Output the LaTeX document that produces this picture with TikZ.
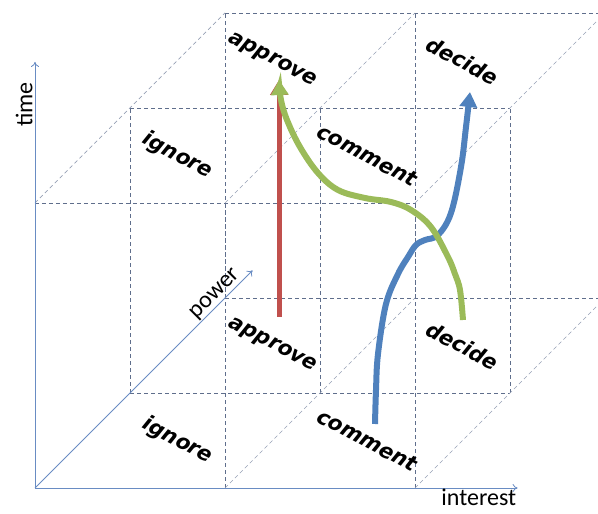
\documentclass[tikz,border=0pt]{standalone}
\usepackage{fontspec}
\setmainfont{Carlito}
\newfontfamily\cellfont{DejaVu Sans}
\usetikzlibrary{arrows.meta}

\definecolor{axisblue}{RGB}{105,140,195}
\definecolor{gridgray}{RGB}{95,110,140}
\definecolor{diaggray}{RGB}{150,160,180}
\definecolor{cred}{RGB}{192,80,77}
\definecolor{cgreen}{RGB}{155,187,89}
\definecolor{cblue}{RGB}{79,129,189}

\begin{document}
\begin{tikzpicture}[x={(190pt,0pt)},y={(0pt,285pt)},z={(95pt,95pt)},
	axisline/.style={axisblue,line width=0.8pt,-{To[length=5pt,width=8pt]}},
	axistext/.style={black,font=\fontsize{24}{24}\selectfont},
	gridline/.style={gridgray,dash pattern=on 4pt off 3pt,line width=0.7pt},
	depthline/.style={diaggray,dash pattern=on 4pt off 3pt,line width=0.7pt},
	cell/.style={font=\cellfont\fontsize{21}{21}\selectfont\bfseries\itshape,rotate=-28},
	flow/.style={line width=6pt,-{Triangle[length=15pt,width=17pt]}}]
	
	\useasboundingbox (-35pt,-26pt) rectangle (563pt,488pt);
	\clip (-35pt,-26pt) rectangle (563pt,488pt);
	
	% lines along interest
	\foreach \t/\p in {0/1,0/2,1/0,1/1,1/2}
		\draw[gridline] (0,\t,\p) -- (2,\t,\p);
	% lines along time
	\foreach \i/\p in {0/1,0/2,1/0,1/1,1/2,2/0,2/1,2/2}
		\draw[gridline] (\i,0,\p) -- (\i,1,\p);
	% lines along power
	\foreach \i/\t in {1/0,2/0,0/1,1/1,2/1}
		\draw[depthline] (\i,\t,0) -- (\i,\t,2);
	
	\coordinate (O) at (0,0,0);
	\draw[axisline] (O) -- (2.54,0,0) coordinate (I)
		node[axistext,anchor=north east,inner sep=1pt] (interest) {interest};
	\draw[axisline] (O) -- node[axistext,pos=0.9,above,sloped,inner sep=2pt] (time) {time} (0,1.495,0) coordinate (T);
	\draw[axisline] (O) -- node[axistext,pos=0.86,above,sloped,inner sep=1pt] (power) {power} (0,0,2.29) coordinate (P);
	
	\foreach \i/\t/\p/\w in {0.5/0/0.5/ignore,1.5/0/0.5/comment,0.5/0/1.5/approve,1.5/0/1.5/decide,
		0.5/1/0.5/ignore,1.5/1/0.5/comment,0.5/1/1.5/approve,1.5/1/1.5/decide}
		\node[cell] (\w-\t) at (\i,\t,\p) {\w};
	
	% straight climb
	\coordinate (r0) at (244pt,171pt);
	\coordinate (r1) at (244pt,408pt);
	\draw[flow,cred,line width=5pt] (r0) -- (r1);
	
	\draw[flow,cblue] plot[smooth,tension=0.6] coordinates {(340pt,64pt) (341pt,98pt) (343pt,134pt)
		(351pt,184pt) (363pt,214pt) (373pt,231pt) (381pt,243pt) (390pt,248pt) (403pt,253pt)
		(416pt,275pt) (426pt,321pt) (431pt,361pt) (435pt,396pt)};
	
	\draw[flow,cgreen] plot[smooth,tension=0.6] coordinates {(428pt,168pt) (425pt,198pt) (420pt,214pt)
		(413pt,231pt) (396pt,261pt) (376pt,278pt) (356pt,286pt) (330pt,290pt) (303pt,298pt)
		(283pt,315pt) (265pt,341pt) (252pt,368pt) (246pt,388pt) (244pt,408pt)};
	
\end{tikzpicture}
\end{document}
